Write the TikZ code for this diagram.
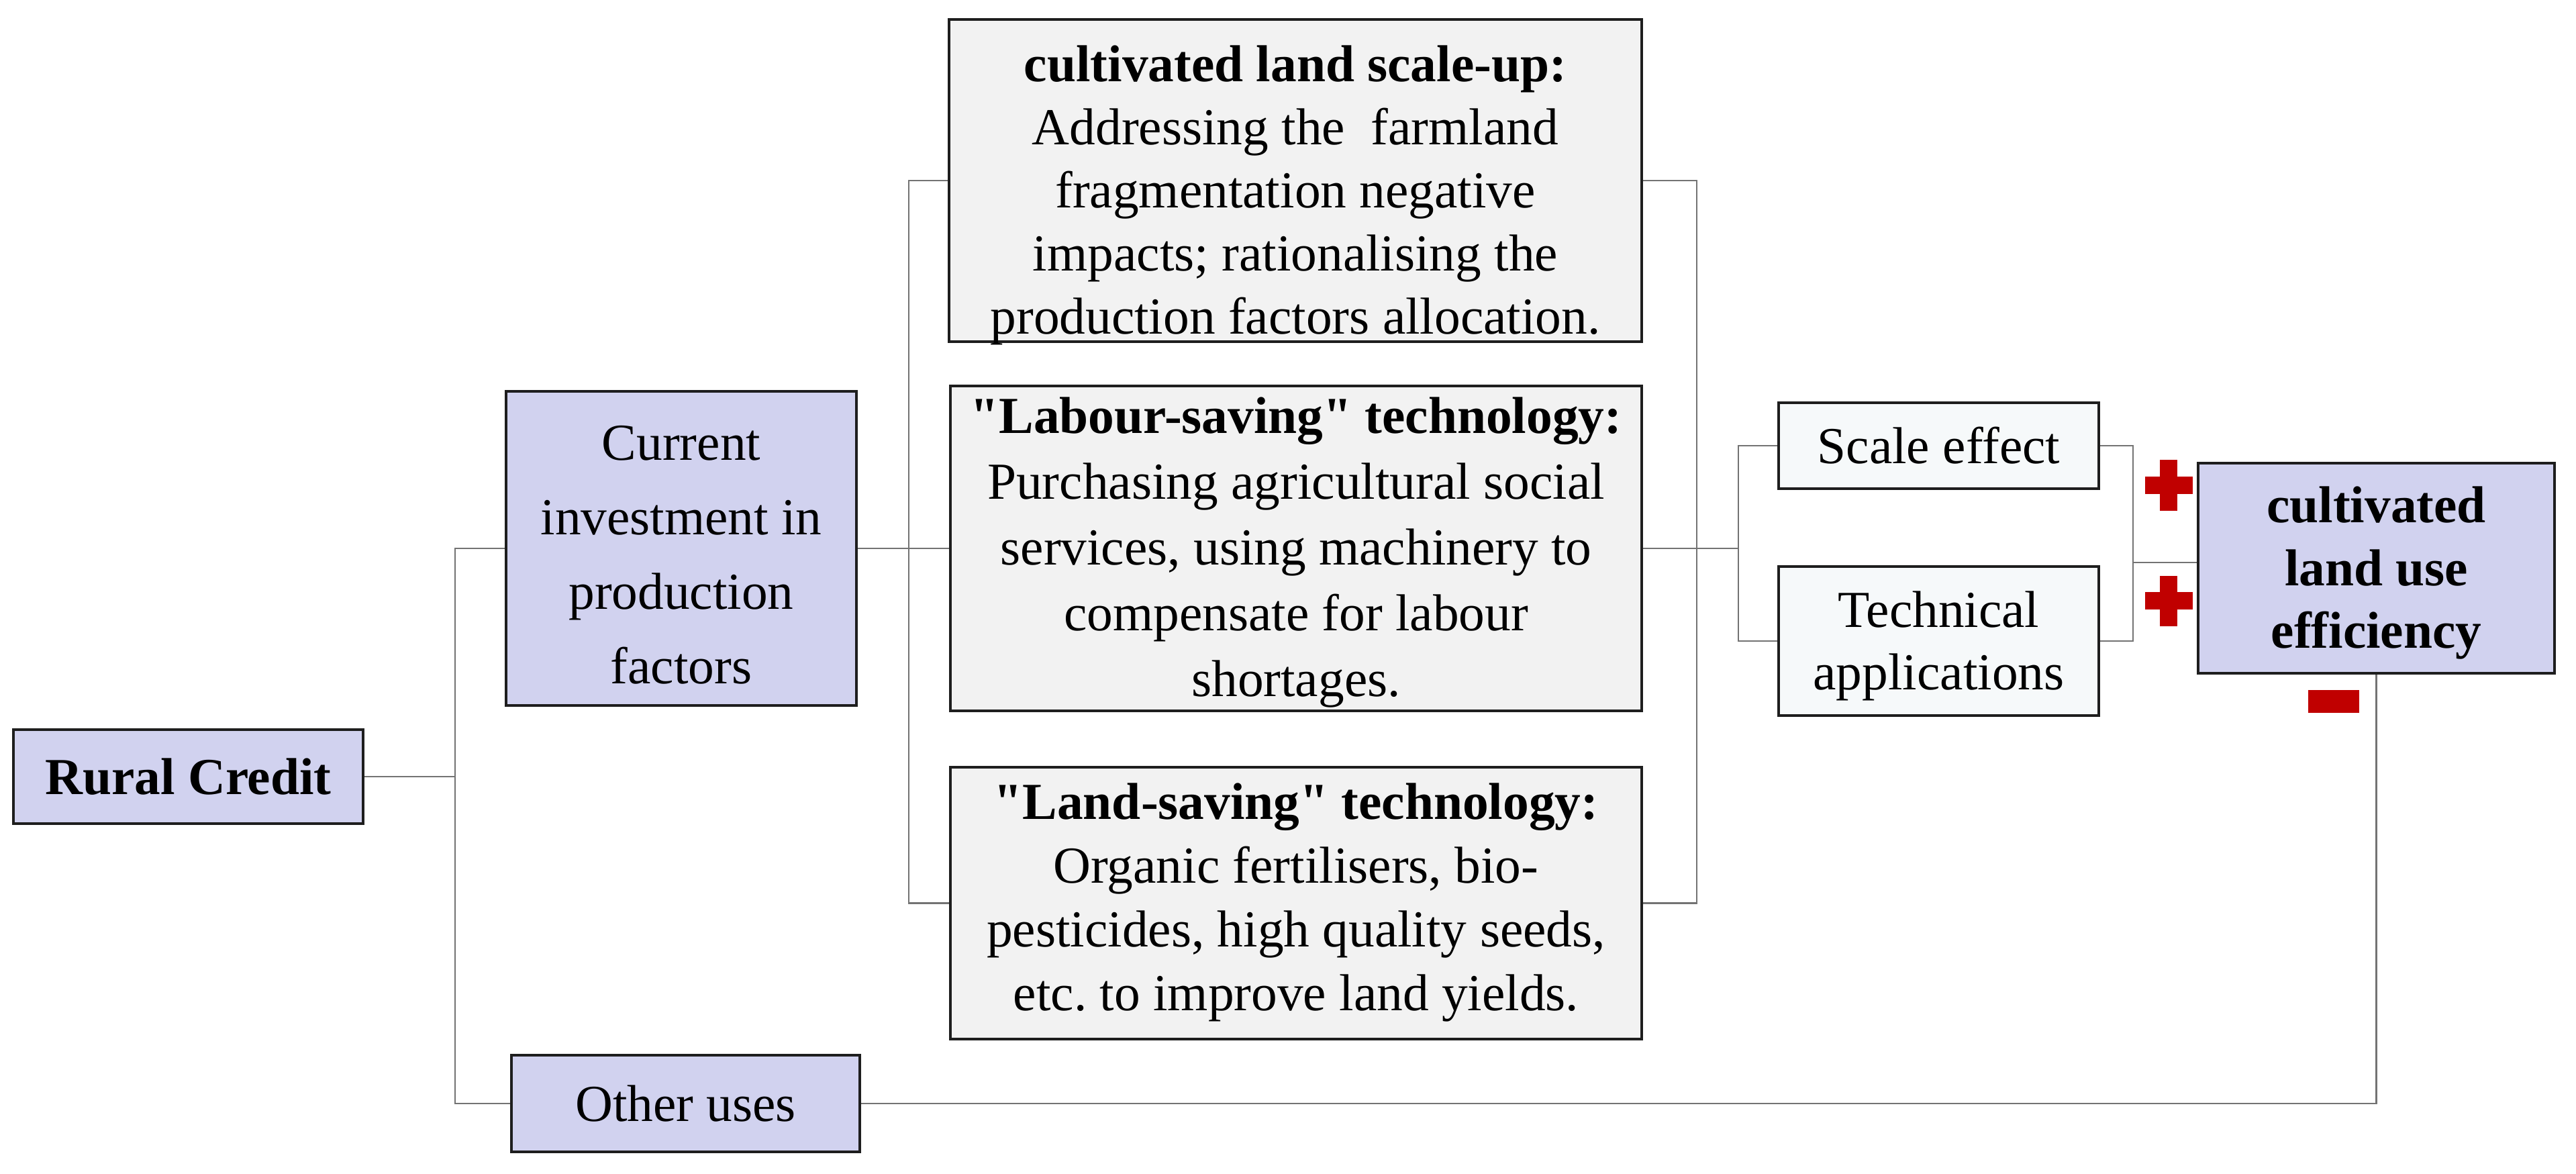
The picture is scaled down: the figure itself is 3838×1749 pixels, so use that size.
\documentclass[tikz,border=0pt]{standalone}
\usepackage{fontspec}
\setmainfont{Liberation Serif}[Ligatures=TeXOff]
\frenchspacing
\definecolor{purplebox}{RGB}{209,210,239}
\definecolor{greybox}{RGB}{242,242,242}
\definecolor{lightbox}{RGB}{246,249,250}
\definecolor{connc}{RGB}{115,115,115}
\definecolor{signred}{RGB}{192,0,0}
\definecolor{boxline}{RGB}{30,30,30}
\tikzset{
  boxbase/.style={draw=boxline, line width=1.1pt, inner sep=0pt},
  pbox/.style={boxbase, fill=purplebox},
  gbox/.style={boxbase, fill=greybox},
  lbox/.style={boxbase, fill=lightbox},
  txt/.style={inner sep=0pt, align=center, text=black, font=\fontsize{22}{#1}\selectfont},
  conn/.style={draw=connc, line width=0.8pt}
}
\begin{document}
\begin{tikzpicture}[x=0.01cm, y=-0.01cm]
\useasboundingbox (0,0) rectangle (3838,1749);

% boxes
\node[pbox, minimum width=5.21cm, minimum height=1.40cm] (rc) at (280.5,1157) {};
\node[pbox, minimum width=5.22cm, minimum height=4.67cm] (ci) at (1015,817) {};
\node[pbox, minimum width=5.19cm, minimum height=1.44cm] (ou) at (1021.5,1644) {};
\node[gbox, minimum width=10.31cm, minimum height=4.80cm] (b1) at (1930,269) {};
\node[gbox, minimum width=10.30cm, minimum height=4.83cm] (b2) at (1931,817) {};
\node[gbox, minimum width=10.30cm, minimum height=4.05cm] (b3) at (1931,1345.5) {};
\node[lbox, minimum width=4.77cm, minimum height=1.28cm] (se) at (2888.5,664) {};
\node[lbox, minimum width=4.77cm, minimum height=2.22cm] (ta) at (2888.5,955) {};
\node[pbox, minimum width=5.31cm, minimum height=3.13cm] (clue) at (3540.5,846.5) {};

% box texts
\node[txt=26.7] (rct) at (rc) {\bfseries Rural Credit};
\node[txt=31.6] (cit) at ([yshift=-0.10cm]ci.center) {Current\\investment in\\production\\factors};
\node[txt=26.7] (out) at (ou) {Other uses};
\node[txt=26.7] (b1t) at ([yshift=-0.22cm]b1.center) {\textbf{cultivated land scale-up:}\\Addressing the~ farmland\\fragmentation negative\\impacts; rationalising the\\production factors allocation.};
\node[txt=27.9] (b2t) at ([yshift=-0.06cm]b2.center) {\textbf{"Labour-saving" technology:}\\Purchasing agricultural social\\services, using machinery to\\compensate for labour\\shortages.};
\node[txt=27.0] (b3t) at ([yshift=0.01cm]b3.center) {\textbf{"Land-saving" technology:}\\Organic fertilisers, bio-\\pesticides, high quality seeds,\\etc. to improve land yields.};
\node[txt=26.7] (set) at (se) {Scale effect};
\node[txt=26.4] (tat) at ([yshift=-0.07cm]ta.center) {Technical\\applications};
\node[txt=26.7] (cluet) at ([yshift=-0.07cm]clue.center) {\bfseries cultivated\\\bfseries land use\\\bfseries efficiency};

% junction coordinates
\coordinate (jl) at (678,1157);
\coordinate (jm) at (1354,817);
\coordinate (jr) at (2528,817);
\coordinate (js) at (2590,817);
\coordinate (jt) at (3178,838);

% connectors
\draw[conn] (rc.east) -- (jl);
\draw[conn] (ci.west) -| (jl) |- (ou.west);
\draw[conn] (ci.east) -- (b2.west);
\draw[conn] (b1.west) -| (jm) |- (b3.west);
\draw[conn] (b1.east) -| (jr) |- (b3.east);
\draw[conn] (b2.east) -- (js);
\draw[conn] (se.west) -| (js) |- (ta.west);
\draw[conn] (se.east) -| (jt) |- (ta.east);
\draw[conn] (jt) -- (clue.west |- jt);
\draw[conn] (ou.east) -| (clue.south);

% signs
\fill[signred] (3195.5,710) rectangle (3266.5,736);
\fill[signred] (3218,685.5) rectangle (3244,760.5);
\fill[signred] (3195.5,882) rectangle (3266.5,908);
\fill[signred] (3218,857.5) rectangle (3244,932.5);
\fill[signred] (3439,1028) rectangle (3515,1062);
\end{tikzpicture}
\end{document}
